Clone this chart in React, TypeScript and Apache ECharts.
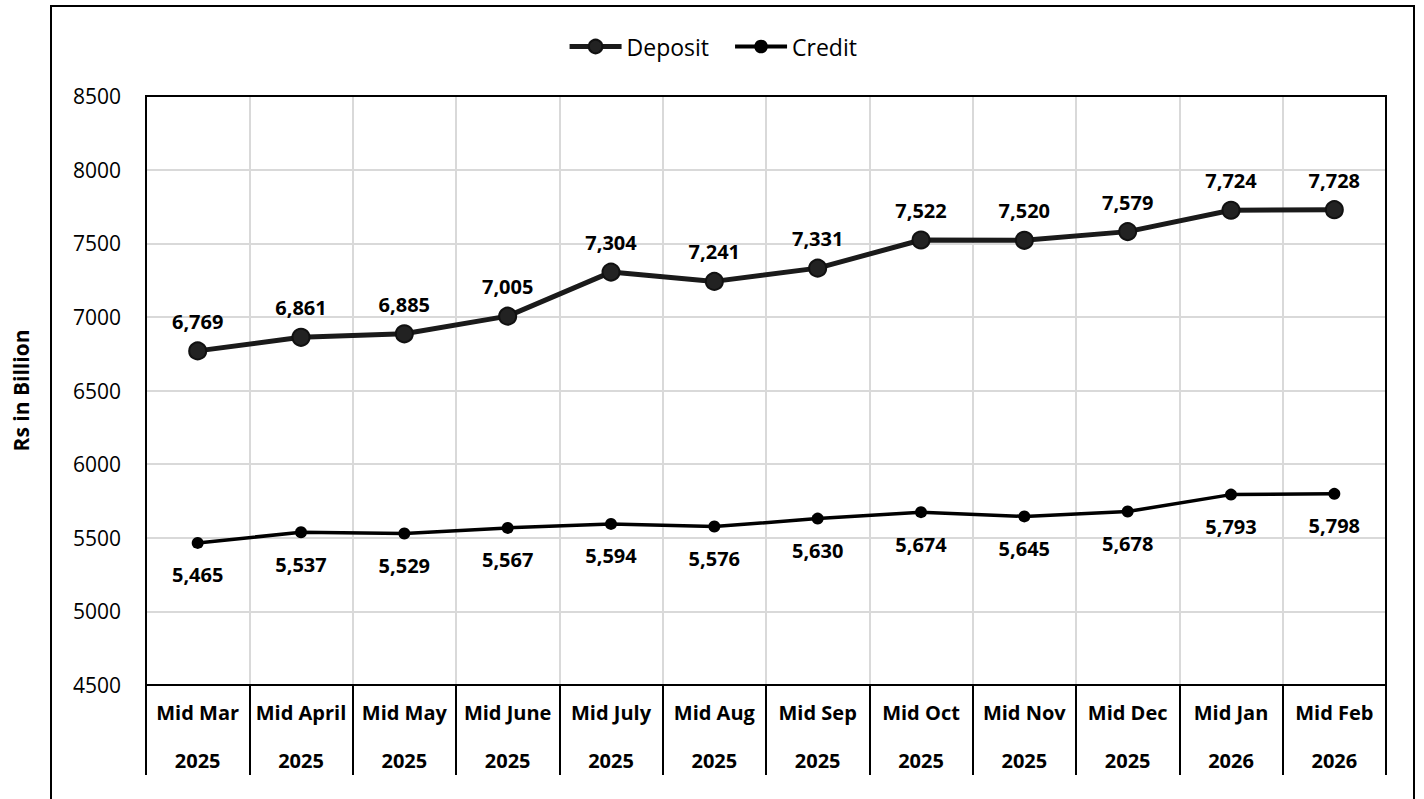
import React, { useEffect, useRef } from "react";
import * as echarts from "echarts";

const months = ["Mid Mar", "Mid April", "Mid May", "Mid June", "Mid July", "Mid Aug", "Mid Sep", "Mid Oct", "Mid Nov", "Mid Dec", "Mid Jan", "Mid Feb"];
const years = ["2025", "2025", "2025", "2025", "2025", "2025", "2025", "2025", "2025", "2025", "2026", "2026"];
const deposit = [6769, 6861, 6885, 7005, 7304, 7241, 7331, 7522, 7520, 7579, 7724, 7728];
const credit = [5465, 5537, 5529, 5567, 5594, 5576, 5630, 5674, 5645, 5678, 5793, 5798];
const yMin = 4500;
const yMax = 8500;
const yStep = 500;

const FONT = "'Open Sans', 'Noto Sans', sans-serif";

const fmt = (v: number) => v.toLocaleString("en-US");

export default function App() {
  const ref = useRef<HTMLDivElement>(null);
  useEffect(() => {
    if (!ref.current) return;
    const chart = echarts.init(ref.current, undefined, { renderer: "svg" });
    const categories = months.map((m, i) => m + "\n" + years[i]);
    chart.setOption({
      animation: false,
      backgroundColor: "#ffffff",
      textStyle: { fontFamily: FONT },
      graphic: [
        {
          type: "rect",
          silent: true,
          z: -10,
          shape: { x: 51, y: 6, width: 1363, height: 900 },
          style: { fill: "none", stroke: "#000", lineWidth: 2 },
        },
        {
          type: "rect",
          silent: true,
          z: 1,
          shape: { x: 146, y: 96, width: 1240, height: 589 },
          style: { fill: "none", stroke: "#000", lineWidth: 2 },
        },
      ],
      legend: {
        top: 30,
        left: "center",
        itemWidth: 52,
        itemHeight: 17,
        itemGap: 24,
        textStyle: { fontSize: 23, color: "#000", fontFamily: FONT },
        data: [
          { name: "Deposit", lineStyle: { width: 5, color: "#1a1a1a" } },
          { name: "Credit", lineStyle: { width: 4, color: "#000" } },
        ],
      },
      grid: {
        left: 146,
        right: 38,
        top: 96,
        bottom: 114,
        show: false,
        containLabel: false,
      },
      xAxis: {
        type: "category",
        data: categories,
        boundaryGap: true,
        axisLine: { show: true, lineStyle: { color: "#000", width: 2 } },
        axisTick: { show: true, length: 90, lineStyle: { color: "#000", width: 2 } },
        splitLine: { show: true, lineStyle: { color: "#d9d9d9", width: 2 } },
        axisLabel: {
          interval: 0,
          color: "#000",
          fontWeight: "bold",
          fontSize: 20,
          lineHeight: 48,
          margin: 3,
          fontFamily: FONT,
        },
      },
      yAxis: {
        type: "value",
        min: yMin,
        max: yMax,
        interval: yStep,
        name: "Rs in Billion",
        nameLocation: "middle",
        nameGap: 115,
        nameRotate: 90,
        nameTextStyle: { fontSize: 21, fontWeight: "bold", color: "#000", fontFamily: FONT },
        axisLine: { show: true, lineStyle: { color: "#000", width: 2 } },
        axisTick: { show: false },
        splitLine: { show: true, lineStyle: { color: "#d9d9d9", width: 2 } },
        axisLabel: {
          color: "#000",
          fontSize: 21,
          margin: 25,
          fontFamily: FONT,
          formatter: (v: number) => String(v),
        },
      },
      series: [
        {
          name: "Deposit",
          type: "line",
          data: deposit,
          symbol: "circle",
          symbolSize: 17,
          lineStyle: { color: "#1a1a1a", width: 5 },
          itemStyle: { color: "#222", borderColor: "#111", borderWidth: 2 },
          label: {
            show: true,
            position: "top",
            distance: 10,
            fontSize: 20,
            fontWeight: "bold",
            color: "#000",
            fontFamily: FONT,
            formatter: (p: any) => fmt(p.value),
          },
          z: 3,
        },
        {
          name: "Credit",
          type: "line",
          data: credit,
          symbol: "circle",
          symbolSize: 12,
          lineStyle: { color: "#000", width: 3.5 },
          itemStyle: { color: "#000" },
          label: {
            show: true,
            position: "bottom",
            distance: 16,
            fontSize: 20,
            fontWeight: "bold",
            color: "#000",
            fontFamily: FONT,
            formatter: (p: any) => fmt(p.value),
          },
          z: 3,
        },
      ],
    });
    return () => chart.dispose();
  }, []);
  return (
    <div
      ref={ref}
      style={{ position: "fixed", left: 0, top: 0, width: 1424, height: 799, background: "#fff" }}
    />
  );
}
